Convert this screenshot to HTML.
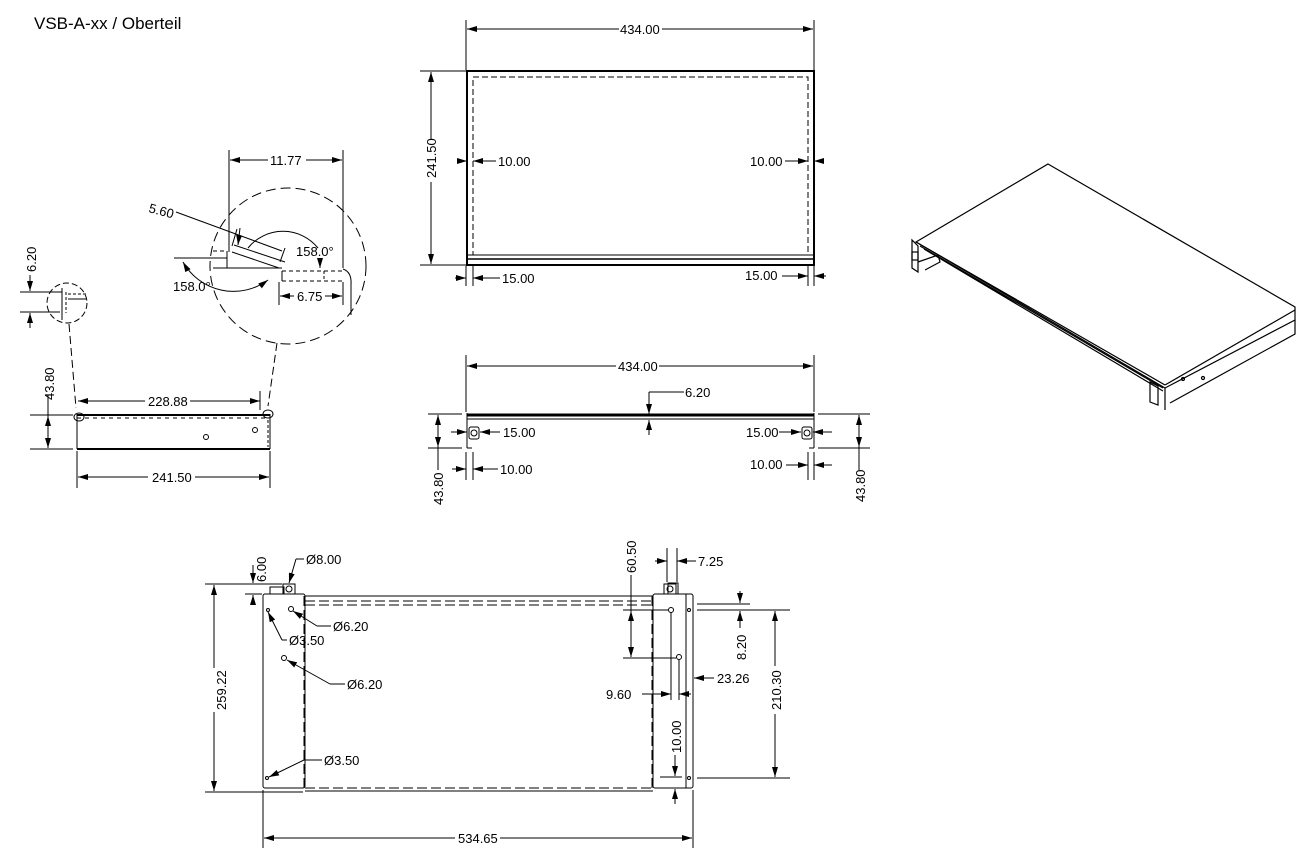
<!DOCTYPE html>
<html><head><meta charset="utf-8"><style>
html,body{margin:0;padding:0;background:#fff;width:1305px;height:857px;overflow:hidden}
svg{display:block}
text{font-family:"Liberation Sans",sans-serif;font-size:13px;fill:#000}
.t{font-size:17px}
</style></head><body>
<svg width="1305" height="857" viewBox="0 0 1305 857" xmlns="http://www.w3.org/2000/svg">
<defs>
<marker id="a" viewBox="0 0 10 6" refX="10" refY="3" markerWidth="10" markerHeight="6" orient="auto-start-reverse" markerUnits="userSpaceOnUse"><path d="M0,0L10,3L0,6z" fill="#000"/></marker>
</defs>
<text class="t" x="34" y="29">VSB-A-xx / Oberteil</text>
<g stroke="#000" fill="none" stroke-width="1">
<!-- TOP VIEW -->
<rect x="467" y="71" width="347" height="194" stroke-width="2"/>
<rect x="473" y="77" width="335" height="178" stroke-dasharray="6,3"/>
<line x1="467" y1="255" x2="814" y2="255"/><line x1="467" y1="259" x2="814" y2="259" stroke-width="1.5"/>
<line x1="466" y1="20" x2="466" y2="70"/><line x1="814" y1="20" x2="814" y2="70"/>
<line x1="467" y1="29" x2="619" y2="29" marker-start="url(#a)"/><line x1="662" y1="29" x2="813" y2="29" marker-end="url(#a)"/>
<line x1="420" y1="71" x2="466" y2="71"/><line x1="420" y1="265" x2="466" y2="265"/>
<line x1="431" y1="72" x2="431" y2="140" marker-start="url(#a)"/><line x1="431" y1="182" x2="431" y2="264" marker-end="url(#a)"/>
<line x1="457" y1="161" x2="467" y2="161" marker-end="url(#a)"/><line x1="473" y1="161" x2="496" y2="161" marker-start="url(#a)"/>
<line x1="785" y1="161" x2="808" y2="161" marker-end="url(#a)"/><line x1="814" y1="161" x2="824" y2="161" marker-start="url(#a)"/>
<line x1="466" y1="266" x2="466" y2="286"/><line x1="473" y1="266" x2="473" y2="286"/><line x1="808" y1="266" x2="808" y2="286"/><line x1="814" y1="266" x2="814" y2="286"/>
<line x1="455" y1="278" x2="466" y2="278" marker-end="url(#a)"/><line x1="473" y1="278" x2="500" y2="278" marker-start="url(#a)"/>
<line x1="782" y1="276" x2="808" y2="276" marker-end="url(#a)"/><line x1="814" y1="276" x2="826" y2="276" marker-start="url(#a)"/>
<!-- FRONT VIEW -->
<line x1="467" y1="415" x2="814" y2="415" stroke-width="3"/><line x1="467" y1="419" x2="814" y2="419"/>
<line x1="467" y1="413" x2="467" y2="448"/><line x1="814" y1="413" x2="814" y2="448"/>
<line x1="467" y1="448" x2="472" y2="448"/><line x1="809" y1="448" x2="814" y2="448"/>
<rect x="469" y="427" width="10" height="12" rx="2"/><circle cx="474" cy="433" r="3"/>
<rect x="802" y="427" width="10" height="12" rx="2"/><circle cx="807" cy="433" r="3"/>
<line x1="466" y1="355" x2="466" y2="412"/><line x1="814" y1="355" x2="814" y2="412"/>
<line x1="467" y1="366" x2="616" y2="366" marker-start="url(#a)"/><line x1="659" y1="366" x2="813" y2="366" marker-end="url(#a)"/>
<line x1="684" y1="392" x2="649" y2="392"/><line x1="649" y1="392" x2="649" y2="414" marker-end="url(#a)"/><line x1="649" y1="435" x2="649" y2="420" marker-end="url(#a)"/>
<line x1="428" y1="414" x2="462" y2="414"/><line x1="428" y1="448" x2="462" y2="448"/>
<line x1="818" y1="414" x2="870" y2="414"/><line x1="818" y1="448" x2="870" y2="448"/>
<line x1="438" y1="415" x2="438" y2="447" marker-start="url(#a)" marker-end="url(#a)"/><line x1="438" y1="447" x2="438" y2="470"/>
<line x1="859" y1="415" x2="859" y2="447" marker-start="url(#a)" marker-end="url(#a)"/><line x1="859" y1="447" x2="859" y2="470"/>
<line x1="451" y1="432" x2="467" y2="432" marker-end="url(#a)"/><line x1="500" y1="432" x2="480" y2="432" marker-end="url(#a)"/>
<line x1="779" y1="432" x2="801" y2="432" marker-end="url(#a)"/><line x1="832" y1="432" x2="813" y2="432" marker-end="url(#a)"/>
<line x1="466" y1="452" x2="466" y2="480"/><line x1="473" y1="452" x2="473" y2="480"/><line x1="808" y1="452" x2="808" y2="480"/><line x1="814" y1="452" x2="814" y2="480"/>
<line x1="452" y1="469" x2="466" y2="469" marker-end="url(#a)"/><line x1="498" y1="469" x2="473" y2="469" marker-end="url(#a)"/>
<line x1="786" y1="465" x2="808" y2="465" marker-end="url(#a)"/><line x1="832" y1="465" x2="814" y2="465" marker-end="url(#a)"/>
<!-- SIDE VIEW -->
<line x1="77" y1="415" x2="270" y2="415" stroke-width="2"/><line x1="77" y1="418" x2="268" y2="418" stroke-dasharray="4,4"/>
<line x1="77" y1="449" x2="270" y2="449" stroke-width="2"/>
<line x1="77" y1="414" x2="77" y2="449"/><line x1="270" y1="414" x2="270" y2="449"/><line x1="268" y1="420" x2="268" y2="447" stroke-dasharray="3,2"/>
<circle cx="206" cy="437" r="2.5"/><circle cx="255" cy="430" r="2.5"/>
<ellipse cx="79" cy="417" rx="5" ry="4"/><ellipse cx="268" cy="414" rx="5" ry="4"/>
<line x1="30" y1="415" x2="73" y2="415"/><line x1="30" y1="449" x2="73" y2="449"/>
<line x1="48" y1="416" x2="48" y2="448" marker-start="url(#a)" marker-end="url(#a)"/><line x1="48" y1="395" x2="48" y2="416"/>
<line x1="77" y1="451" x2="77" y2="488"/><line x1="270" y1="451" x2="270" y2="488"/>
<line x1="78" y1="477" x2="148" y2="477" marker-start="url(#a)"/><line x1="195" y1="477" x2="269" y2="477" marker-end="url(#a)"/>
<line x1="78" y1="401" x2="145" y2="401" marker-start="url(#a)"/><line x1="190" y1="401" x2="260" y2="401" marker-end="url(#a)"/>
<line x1="260" y1="391" x2="260" y2="410"/>
<!-- small detail circle -->
<circle cx="67" cy="303" r="20" stroke-dasharray="6,3"/>
<line x1="62" y1="288" x2="62" y2="320"/><line x1="66" y1="292" x2="66" y2="313" stroke-dasharray="3,2"/>
<line x1="68" y1="294" x2="86" y2="294" stroke-dasharray="3,2"/><line x1="68" y1="299" x2="86" y2="299"/>
<line x1="20" y1="292" x2="62" y2="292"/><line x1="20" y1="312" x2="60" y2="312"/>
<line x1="30" y1="275" x2="30" y2="291" marker-end="url(#a)"/><line x1="30" y1="328" x2="30" y2="313" marker-end="url(#a)"/>
<line x1="69" y1="324" x2="76" y2="408" stroke-dasharray="8,4"/>
<!-- big detail circle -->
<circle cx="288" cy="266" r="78" stroke-dasharray="10,5"/>
<line x1="277" y1="343" x2="268" y2="406" stroke-dasharray="8,4"/>
<line x1="213" y1="268" x2="282" y2="268"/><line x1="227" y1="251" x2="227" y2="268"/><line x1="213" y1="251" x2="227" y2="251" stroke-dasharray="4,3"/>
<line x1="174" y1="258" x2="227" y2="258"/>
<line x1="232" y1="252" x2="279" y2="268"/><line x1="234" y1="245" x2="285" y2="262"/>
<line x1="282" y1="271" x2="343" y2="271" stroke-dasharray="4,3"/><line x1="282" y1="281" x2="343" y2="281" stroke-dasharray="4,3"/><line x1="282" y1="271" x2="282" y2="281"/><line x1="324" y1="271" x2="324" y2="281" stroke-dasharray="3,2"/>
<path d="M343,269 Q352,272 351,285 L351,315"/>
<line x1="229" y1="150" x2="229" y2="252"/><line x1="343" y1="150" x2="343" y2="268"/>
<line x1="230" y1="160" x2="268" y2="160" marker-start="url(#a)"/><line x1="306" y1="160" x2="342" y2="160" marker-end="url(#a)"/>
<line x1="279" y1="282" x2="279" y2="305"/><line x1="343" y1="282" x2="343" y2="305"/>
<line x1="280" y1="296" x2="294" y2="296" marker-start="url(#a)"/><line x1="325" y1="296" x2="342" y2="296" marker-end="url(#a)"/>
<line x1="176" y1="212" x2="282" y2="251"/><line x1="240" y1="228" x2="238" y2="245" marker-end="url(#a)"/>
<line x1="237" y1="229" x2="232" y2="246"/><line x1="285" y1="248" x2="280" y2="262"/>
<path d="M248,248 A45,45 0 0 1 318,248"/><line x1="320" y1="258" x2="320" y2="268" marker-end="url(#a)"/>
<path d="M183,262 A58,58 0 0 0 268,280" marker-start="url(#a)" marker-end="url(#a)"/>
<!-- BOTTOM VIEW -->
<rect x="263" y="594" width="42" height="194" rx="2"/>
<rect x="653" y="594" width="40" height="194" rx="2"/>
<line x1="686" y1="594" x2="686" y2="788"/>
<path d="M270,594 L270,587 L284,587 L284,594 M668,594 L668,583 L678,583 L678,594"/>
<rect x="283" y="584" width="12" height="10"/><circle cx="289" cy="589" r="3"/>
<rect x="664" y="584" width="12" height="10"/><circle cx="670" cy="589" r="3"/>
<line x1="305" y1="596" x2="653" y2="596"/><line x1="305" y1="601" x2="653" y2="601" stroke-dasharray="10,4"/><line x1="305" y1="605" x2="653" y2="605" stroke-dasharray="10,4"/>
<line x1="305" y1="791" x2="653" y2="791"/><line x1="305" y1="788" x2="653" y2="788" stroke-dasharray="10,4"/>
<line x1="304" y1="596" x2="304" y2="788" stroke-dasharray="10,4"/><line x1="652" y1="596" x2="652" y2="788" stroke-dasharray="10,4"/>
<circle cx="291" cy="609" r="2.5"/><circle cx="284" cy="658" r="2.5"/><circle cx="671" cy="610" r="2.5"/><circle cx="679" cy="657" r="2.5"/>
<circle cx="268" cy="610" r="1.5"/><circle cx="267" cy="778" r="1.5"/><circle cx="689" cy="610" r="1.5"/><circle cx="689" cy="778" r="1.5"/>
<line x1="205" y1="584" x2="282" y2="584"/><line x1="205" y1="792" x2="303" y2="792"/>
<line x1="214" y1="585" x2="214" y2="668" marker-start="url(#a)"/><line x1="214" y1="712" x2="214" y2="791" marker-end="url(#a)"/>
<line x1="245" y1="594" x2="262" y2="594"/>
<line x1="253" y1="565" x2="253" y2="583" marker-end="url(#a)"/><line x1="253" y1="605" x2="253" y2="595" marker-end="url(#a)"/>
<line x1="304" y1="559" x2="296" y2="559"/><line x1="296" y1="559" x2="289" y2="583" marker-end="url(#a)"/>
<line x1="331" y1="626" x2="317" y2="626"/><line x1="317" y1="626" x2="293" y2="611" marker-end="url(#a)"/>
<line x1="287" y1="640" x2="282" y2="640"/><line x1="282" y1="640" x2="268" y2="612" marker-end="url(#a)"/>
<line x1="345" y1="684" x2="330" y2="684"/><line x1="330" y1="684" x2="287" y2="660" marker-end="url(#a)"/>
<line x1="322" y1="760" x2="304" y2="760"/><line x1="304" y1="760" x2="269" y2="777" marker-end="url(#a)"/>
<line x1="263" y1="790" x2="263" y2="848"/><line x1="693" y1="790" x2="693" y2="848"/>
<line x1="264" y1="838" x2="455" y2="838" marker-start="url(#a)"/><line x1="500" y1="838" x2="692" y2="838" marker-end="url(#a)"/>
<line x1="623" y1="610" x2="668" y2="610"/><line x1="623" y1="658" x2="676" y2="658"/>
<line x1="631" y1="611" x2="631" y2="657" marker-start="url(#a)" marker-end="url(#a)"/><line x1="631" y1="575" x2="631" y2="611"/>
<line x1="667" y1="548" x2="667" y2="582"/><line x1="677" y1="548" x2="677" y2="582"/>
<line x1="655" y1="561" x2="667" y2="561" marker-end="url(#a)"/><line x1="696" y1="561" x2="677" y2="561" marker-end="url(#a)"/>
<line x1="671" y1="612" x2="671" y2="700"/><line x1="679" y1="660" x2="679" y2="700"/>
<line x1="642" y1="694" x2="671" y2="694" marker-end="url(#a)"/><line x1="691" y1="694" x2="679" y2="694" marker-end="url(#a)"/>
<line x1="714" y1="678" x2="694" y2="678" marker-end="url(#a)"/>
<line x1="697" y1="604" x2="750" y2="604"/><line x1="697" y1="610" x2="790" y2="610"/><line x1="697" y1="778" x2="790" y2="778"/>
<line x1="740" y1="591" x2="740" y2="603" marker-end="url(#a)"/><line x1="740" y1="628" x2="740" y2="611" marker-end="url(#a)"/>
<line x1="775" y1="611" x2="775" y2="666" marker-start="url(#a)"/><line x1="775" y1="714" x2="775" y2="777" marker-end="url(#a)"/>
<line x1="660" y1="777" x2="682" y2="777"/>
<line x1="675" y1="755" x2="675" y2="776" marker-end="url(#a)"/><line x1="675" y1="804" x2="675" y2="789" marker-end="url(#a)"/>
<!-- ISO VIEW -->
<g stroke-width="1.2">
<path d="M1048,164 L1295,307 L1295,320 L1165,388 L916,242 Z"/>
<path d="M916,242 L1165,385 M920,246 L1163,388 M924,249 L1163,391"/>
<path d="M1165,385 L1295,310"/><path d="M1165,388 L1165,410 M1295,320 L1295,334 L1170,403"/>
<path d="M912,240 L912,268 L918,272 L918,246 Z"/><rect x="912" y="252" width="6" height="8"/>
<path d="M918,262 L938,255 L940,262 L925,270"/>
<path d="M1150,382 L1150,402 L1158,405 L1158,386 Z"/><circle cx="1183" cy="379" r="1.5"/><circle cx="1203" cy="378" r="1.5"/>
</g>
</g>
<g>
<text x="620" y="34">434.00</text>
<text x="436" y="178" transform="rotate(-90 436 178)">241.50</text>
<text x="498" y="166">10.00</text><text x="750" y="166">10.00</text>
<text x="502" y="283">15.00</text><text x="745" y="280">15.00</text>
<text x="618" y="371">434.00</text><text x="685" y="397">6.20</text>
<text x="503" y="437">15.00</text><text x="746" y="437">15.00</text>
<text x="500" y="474">10.00</text><text x="750" y="469">10.00</text>
<text x="443" y="505" transform="rotate(-90 443 505)">43.80</text>
<text x="865" y="502" transform="rotate(-90 865 502)">43.80</text>
<text x="148" y="406">228.88</text><text x="152" y="482">241.50</text>
<text x="54" y="400" transform="rotate(-90 54 400)">43.80</text>
<text x="36" y="272" transform="rotate(-90 36 272)">6.20</text>
<text x="270" y="165">11.77</text>
<text x="148" y="212" transform="rotate(15 148 212)">5.60</text>
<text x="296" y="256">158.0°</text><text x="173" y="291">158.0°</text>
<text x="297" y="301">6.75</text>
<text x="266" y="582" transform="rotate(-90 266 582)">6.00</text>
<text x="306" y="564">Ø8.00</text>
<text x="333" y="631">Ø6.20</text><text x="289" y="645">Ø3.50</text>
<text x="347" y="689">Ø6.20</text><text x="324" y="765">Ø3.50</text>
<text x="226" y="710" transform="rotate(-90 226 710)">259.22</text>
<text x="458" y="843">534.65</text>
<text x="636" y="573" transform="rotate(-90 636 573)">60.50</text>
<text x="698" y="566">7.25</text>
<text x="746" y="660" transform="rotate(-90 746 660)">8.20</text>
<text x="606" y="699">9.60</text><text x="717" y="683">23.26</text>
<text x="781" y="710" transform="rotate(-90 781 710)">210.30</text>
<text x="681" y="753" transform="rotate(-90 681 753)">10.00</text>
</g>
</svg>
</body></html>
